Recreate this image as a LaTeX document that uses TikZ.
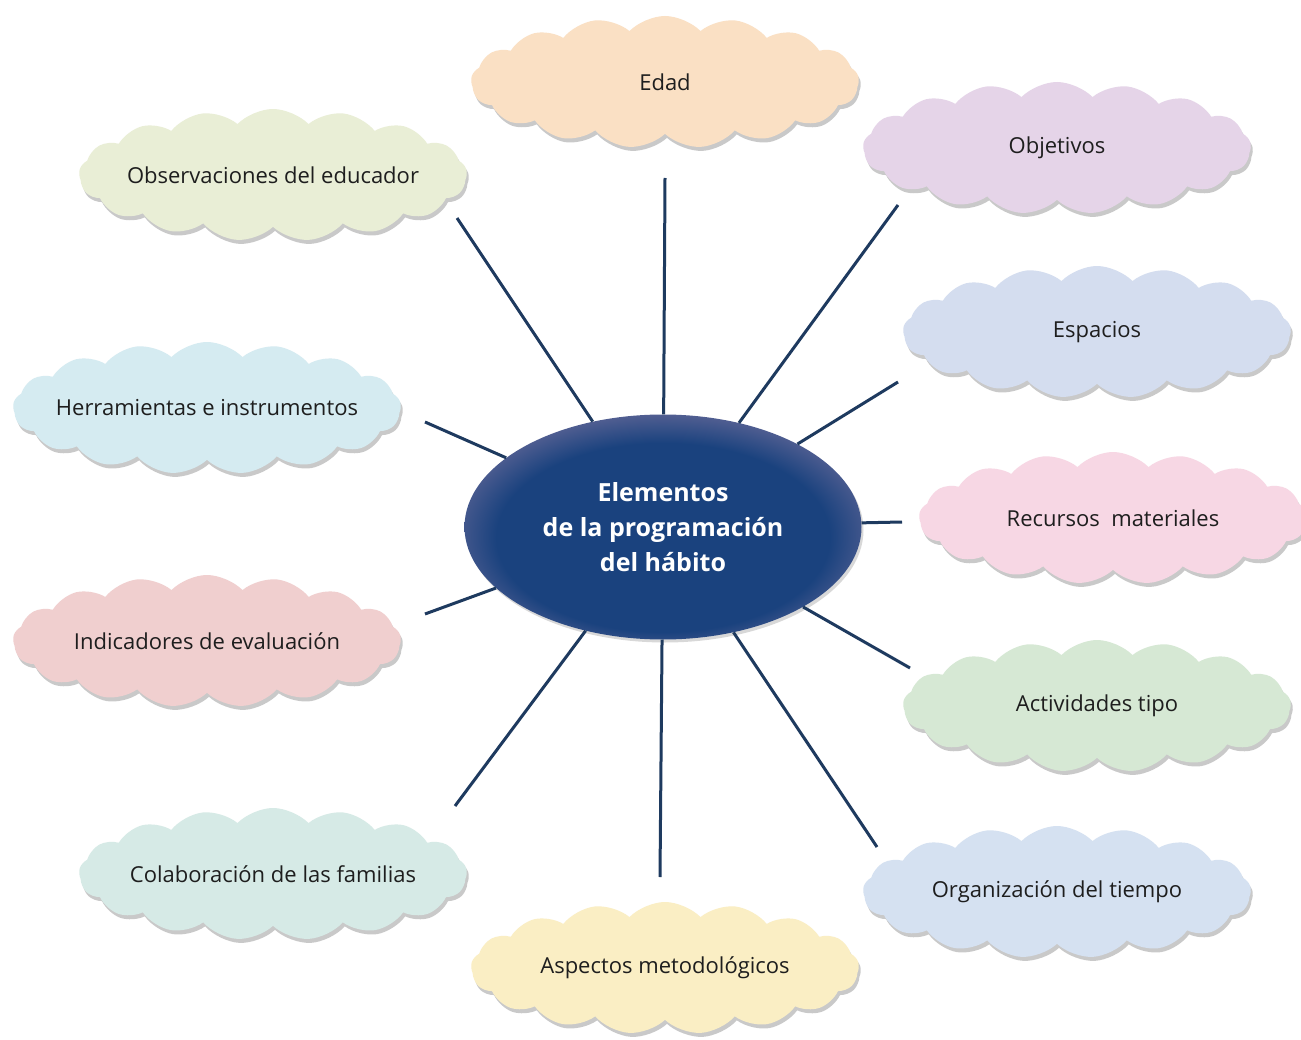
\documentclass[tikz,border=0pt]{standalone}
\usepackage{fontspec}
\setmainfont{Open Sans}
\usetikzlibrary{shapes.symbols,shapes.geometric,shadows}
\definecolor{navyA}{RGB}{26,66,126}
\definecolor{navyB}{RGB}{100,104,152}
\definecolor{linecol}{RGB}{30,58,95}
\definecolor{txtcol}{RGB}{30,30,30}
\definecolor{cEdad}{RGB}{250,224,196}
\definecolor{cObj}{RGB}{229,212,232}
\definecolor{cObs}{RGB}{233,238,214}
\definecolor{cEsp}{RGB}{212,221,239}
\definecolor{cHer}{RGB}{213,235,241}
\definecolor{cRec}{RGB}{247,215,228}
\definecolor{cInd}{RGB}{240,207,207}
\definecolor{cAct}{RGB}{214,232,212}
\definecolor{cCol}{RGB}{214,234,230}
\definecolor{cOrg}{RGB}{213,225,241}
\definecolor{cAsp}{RGB}{250,238,196}
\pgfdeclareradialshading{elshade}{\pgfpoint{0bp}{-4bp}}{color(0bp)=(navyA); color(21bp)=(navyA); color(29bp)=(navyB); color(50bp)=(navyB)}
\tikzset{
  cloudbox/.style={shape=cloud, cloud puffs=17, cloud puff arc=92, cloud ignores aspect,
    minimum width=388, minimum height=132, inner sep=0pt, draw=none,
    font=\fontsize{22}{25}\selectfont, text=txtcol,
    drop shadow={shadow xshift=2pt, shadow yshift=-4pt, opacity=0.35, fill=black!60}},
  link/.style={draw=linecol, line width=3pt},
  centre/.style={shape=ellipse, minimum width=397, minimum height=225, inner sep=0pt,
    shade, shading=elshade, text=white, align=center,
    font=\fontsize{25}{35}\selectfont\bfseries,
    drop shadow={shadow xshift=2pt, shadow yshift=-3pt, opacity=0.3}}
}
\newcommand{\cl}[1]{\makebox[0pt]{#1}}
\begin{document}
\begin{tikzpicture}[x=1pt,y=-1pt]
\useasboundingbox (0,0) rectangle (1301,1040);
\fill[white] (0,0) rectangle (1301,1040);
\node[centre] (el) at (663,527) {Elementos\\de la programación\\del hábito};
\coordinate (e1) at (665,178);
\coordinate (e2) at (898,205);
\coordinate (e3) at (457,218);
\coordinate (e4) at (898,382);
\coordinate (e5) at (425,422);
\coordinate (e6) at (902,522);
\coordinate (e7) at (425,614);
\coordinate (e8) at (910,668);
\coordinate (e9) at (455,806);
\coordinate (e10) at (660,877);
\coordinate (e11) at (877,847);
\foreach \i in {1,...,11} {\draw[link] (el) -- (e\i);}
\node[cloudbox, fill=cEdad] (edad) at (665,82) {\cl{Edad}};
\node[cloudbox, fill=cObj] (obj) at (1057,148) {\cl{Objetivos}};
\node[cloudbox, fill=cObs] (obs) at (273,175) {\cl{Observaciones del educador}};
\node[cloudbox, fill=cEsp] (esp) at (1097,332) {\cl{Espacios}};
\node[cloudbox, fill=cHer] (her) at (207,408) {\cl{Herramientas e instrumentos}};
\node[cloudbox, fill=cRec] (rec) at (1113,518) {\cl{Recursos\ \ materiales}};
\node[cloudbox, fill=cInd] (ind) at (207,641) {\cl{Indicadores de evaluación}};
\node[cloudbox, fill=cAct] (act) at (1097,706) {\cl{Actividades tipo}};
\node[cloudbox, fill=cCol] (col) at (273,874) {\cl{Colaboración de las familias}};
\node[cloudbox, fill=cOrg] (org) at (1057,892) {\cl{Organización del tiempo}};
\node[cloudbox, fill=cAsp] (asp) at (665,968) {\cl{Aspectos metodológicos}};
\end{tikzpicture}
\end{document}
